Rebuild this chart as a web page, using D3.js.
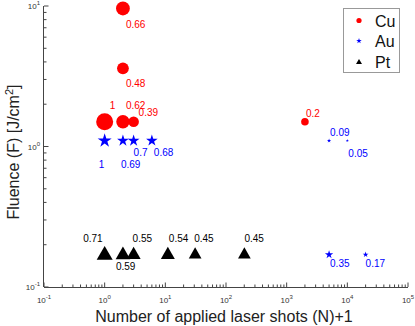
<!DOCTYPE html>
<html><head><meta charset="utf-8">
<script src="https://cdn.jsdelivr.net/npm/d3@7"></script>
<style>body{margin:0;background:#fff}svg{display:block;font-family:"Liberation Sans",Arial,sans-serif}</style>
</head><body>
<svg id="c" width="415" height="326"></svg>
<script>
// ---- data ----
const cuN = [2, 2, 1, 2, 3, 2000];
const cuF = [9.6, 3.6, 1.5, 1.5, 1.5, 1.5];
const cuLabel = ["0.66", "0.48", "1", "0.62", "0.39", "0.2"];

const auN = [1, 2, 3, 6, 5000, 10000, 5000, 20000];
const auF = [1.1, 1.1, 1.1, 1.1, 1.1, 1.1, 0.17, 0.17];
const auLabel = ["1", "0.69", "0.7", "0.68", "0.09", "0.05", "0.35", "0.17"];

const ptN = [1, 2, 3, 11, 31, 201];
const ptF = [0.175, 0.175, 0.175, 0.175, 0.175, 0.175];
const ptLabel = ["0.71", "0.59", "0.55", "0.54", "0.45", "0.45"];

const xTickExp = [-1, 0, 1, 2, 3, 4, 5];
const yTickExp = [-1, 0, 1];
const legendNames = ["Cu", "Au", "Pt"];

// label placement (annotation layout)
const cuOff = [[3,20,"start"],[3,19,"start"],[5,-13,"start"],[3,-13,"start"],[5,-6,"start"],[1,-5,"start"]];
const auOff = [[-6,27,"start"],[-2,27,"start"],[0,15,"start"],[2,15,"start"],[1,-5,"start"],[1,16,"start"],[1,12,"start"],[0,12,"start"]];
const ptOff = [[-2,-11,"end"],[-7,17,"start"],[-1,-11,"start"],[1,-11,"start"],[-1,-11,"start"],[0,-11,"start"]];

// ---- layout ----
const svg = d3.select("#c");
const L = 44, R = 408, T = 6, B = 287;
const x = d3.scaleLog().domain([0.1, 1e5]).range([L, R]);
const y = d3.scaleLog().domain([0.1, 10]).range([B, T]);
const axisCol = "#444";

// minor + major ticks (inward)
const g = svg.append("g");
function minors(lo, hi) {
  const out = [];
  for (let e = lo; e < hi; e++) for (let k = 2; k <= 9; k++) out.push(k * Math.pow(10, e));
  return out;
}
minors(-1, 5).forEach(v => g.append("line").attr("x1", x(v)).attr("x2", x(v)).attr("y1", B).attr("y2", B - 2.5).attr("stroke", axisCol));
minors(-1, 1).forEach(v => g.append("line").attr("y1", y(v)).attr("y2", y(v)).attr("x1", L).attr("x2", L + 2.5).attr("stroke", axisCol));
xTickExp.forEach(e => {
  const v = Math.pow(10, e);
  g.append("line").attr("x1", x(v)).attr("x2", x(v)).attr("y1", B).attr("y2", B - 4.5).attr("stroke", axisCol);
  const t = g.append("text").attr("x", x(v)).attr("y", B + 16).attr("text-anchor", "middle").attr("font-size", 8).attr("fill", "#333");
  t.append("tspan").text("10");
  t.append("tspan").attr("dy", -4).attr("font-size", 6).text(e);
});
yTickExp.forEach(e => {
  const v = Math.pow(10, e);
  g.append("line").attr("y1", y(v)).attr("y2", y(v)).attr("x1", L).attr("x2", L + 4.5).attr("stroke", axisCol);
  const t = g.append("text").attr("x", L - 4).attr("y", y(v) + 3).attr("text-anchor", "end").attr("font-size", 8).attr("fill", "#333");
  t.append("tspan").text("10");
  t.append("tspan").attr("dy", -4).attr("font-size", 6).text(e);
});
g.append("line").attr("x1", L).attr("x2", R).attr("y1", B + 0.5).attr("y2", B + 0.5).attr("stroke", axisCol);
g.append("line").attr("x1", L - 0.5).attr("x2", L - 0.5).attr("y1", T).attr("y2", B).attr("stroke", axisCol);

// axis titles
svg.append("text").attr("x", 224).attr("y", 322).attr("text-anchor", "middle").attr("font-size", 16).attr("fill", "#222")
  .text("Number of applied laser shots (N)+1");
const yl = svg.append("text").attr("transform", "translate(19,152) rotate(-90)").attr("text-anchor", "middle").attr("font-size", 16).attr("fill", "#222");
yl.append("tspan").text("Fluence (F) [J/cm");
yl.append("tspan").attr("dy", -6).attr("font-size", 11).text("2");
yl.append("tspan").attr("dy", 6).text("]");

// marker helpers
const rScale = d3.scaleSqrt().domain([0, 1]).range([0, 8.5]);
const starW = d3.scaleSqrt().domain([0, 1]).range([0, 14]);
const triW = d3.scaleSqrt().domain([0, 0.71]).range([0, 16]);
function starPath(w) { const r = w / 1.9; return d3.symbol(d3.symbolStar, r * r / 0.8908130915292852)(); }
function triPath(w) { const h = w * 0.87; return `M0,${-h/2}L${w/2},${h/2}L${-w/2},${h/2}Z`; }

const pts = svg.append("g");
cuN.forEach((n, i) => {
  pts.append("circle").attr("cx", x(n)).attr("cy", y(cuF[i])).attr("r", rScale(+cuLabel[i])).attr("fill", "red");
});
auN.forEach((n, i) => {
  pts.append("path").attr("d", starPath(starW(+auLabel[i]))).attr("transform", `translate(${x(n)},${y(auF[i])})`).attr("fill", "blue");
});
ptN.forEach((n, i) => {
  pts.append("path").attr("d", triPath(triW(+ptLabel[i]))).attr("transform", `translate(${x(n)},${y(ptF[i])})`).attr("fill", "black");
});

// labels
const lab = svg.append("g").attr("font-size", 10);
function addLabels(N, F, labels, off, col) {
  N.forEach((n, i) => {
    lab.append("text").attr("x", x(n) + off[i][0]).attr("y", y(F[i]) + off[i][1]).attr("text-anchor", off[i][2]).attr("fill", col).text(labels[i]);
  });
}
addLabels(cuN, cuF, cuLabel, cuOff, "red");
addLabels(auN, auF, auLabel, auOff, "blue");
addLabels(ptN, ptF, ptLabel, ptOff, "black");

// legend
const lg = svg.append("g");
lg.append("rect").attr("x", 343.5).attr("y", 8.5).attr("width", 56).attr("height", 64).attr("fill", "#fff").attr("stroke", "#999");
const legCols = ["red", "blue", "black"];
legendNames.forEach((nm, i) => {
  const cy = 20.5 + i * 20.5;
  if (i === 0) lg.append("circle").attr("cx", 359).attr("cy", cy).attr("r", 2.6).attr("fill", "red");
  if (i === 1) lg.append("path").attr("d", starPath(5.5)).attr("transform", `translate(359,${cy})`).attr("fill", "blue");
  if (i === 2) lg.append("path").attr("d", triPath(6)).attr("transform", `translate(359,${cy})`).attr("fill", "black");
  lg.append("text").attr("x", 375).attr("y", cy + 6).attr("font-size", 16).attr("fill", "#111").text(nm);
});
</script>
</body></html>
